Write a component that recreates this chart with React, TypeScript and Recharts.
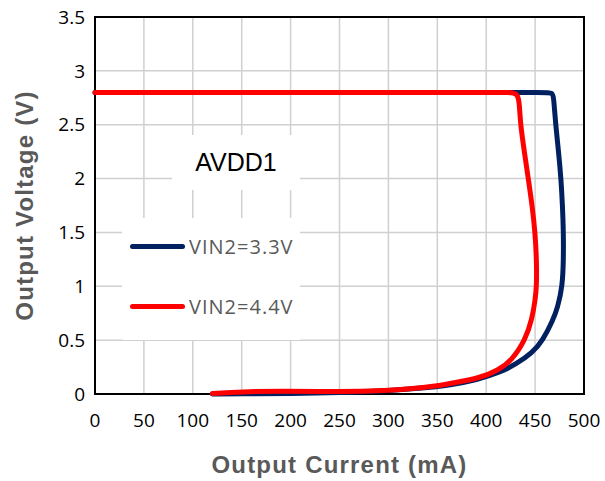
import { LineChart, Line, XAxis, YAxis, CartesianGrid, ReferenceArea, Label } from "recharts"

// VIN2 = 3.3V trace (current in mA, voltage in V)
const vin33Current = [0, 100, 200, 300, 400, 460, 468, 469, 471, 474, 476.5, 478, 479, 479, 478, 473, 468, 458, 447, 431, 414, 390, 365, 330, 300, 250, 200, 150, 120]
const vin33Voltage = [2.8, 2.8, 2.8, 2.8, 2.8, 2.8, 2.8, 2.75, 2.5, 2.25, 2.0, 1.75, 1.5, 1.25, 1.0, 0.8, 0.68, 0.5, 0.38, 0.28, 0.2, 0.13, 0.085, 0.05, 0.03, 0.012, 0.004, 0.002, 0]

// VIN2 = 4.4V trace
const vin44Current = [0, 100, 200, 300, 400, 425, 432, 434, 435, 439, 443, 447, 450, 451.5, 451.6, 450, 447, 440, 426, 412, 394, 365, 350, 320, 300, 250, 190, 150, 120]
const vin44Voltage = [2.8, 2.8, 2.8, 2.8, 2.8, 2.8, 2.79, 2.7, 2.5, 2.25, 2.0, 1.75, 1.5, 1.25, 1.0, 0.87, 0.7, 0.5, 0.31, 0.22, 0.15, 0.1, 0.075, 0.045, 0.032, 0.02, 0.03, 0.02, 0.005]

const xTicks = [0, 50, 100, 150, 200, 250, 300, 350, 400, 450, 500]
const yTicks = [0, 0.5, 1, 1.5, 2, 2.5, 3, 3.5]

const seriesNames = ["VIN2=3.3V", "VIN2=4.4V"]
const seriesColors = ["#002060", "#FF0000"]
const chartTitle = "AVDD1"

const vin33 = vin33Current.map((i, k) => ({ i, v: vin33Voltage[k] }))
const vin44 = vin44Current.map((i, k) => ({ i, v: vin44Voltage[k] }))

const tickStyle = { fill: "#000", fontSize: 19, fontFamily: "Open Sans" }
const titleStyle = { fill: "#595959", fontSize: 24, fontWeight: 700, fontFamily: "Liberation Sans", letterSpacing: 1.2 }

function LegendBox() {
  return (
    <div style={{ position: "absolute", left: 122, top: 218, width: 178, height: 122, background: "#fff" }}>
      {seriesNames.map((name, k) => (
        <div
          key={name}
          style={{ position: "absolute", left: 8, top: 15 + k * 60, display: "flex", alignItems: "center" }}
        >
          <div style={{ width: 55, height: 5, borderRadius: 3, background: seriesColors[k] }} />
          <span style={{ marginLeft: 4, fontFamily: "Open Sans", fontSize: 20, letterSpacing: 1, color: "#595959" }}>
            {name}
          </span>
        </div>
      ))}
    </div>
  )
}

export default function App() {
  return (
    <div style={{ position: "absolute", left: 0, top: 0, width: 605, height: 481, background: "#fff" }}>
      <LineChart width={605} height={481} margin={{ top: 17, right: 21, left: 0, bottom: 0 }}>
        <CartesianGrid stroke="#d0d0d0" strokeWidth={1.5} />
        <XAxis
          type="number"
          dataKey="i"
          domain={[0, 500]}
          ticks={xTicks}
          interval={0}
          height={87}
          tickLine={false}
          axisLine={false}
          tickMargin={14}
          tick={tickStyle}
        >
          <Label value="Output Current (mA)" position="insideBottom" offset={8} style={titleStyle} />
        </XAxis>
        <YAxis
          type="number"
          dataKey="v"
          domain={[0, 3.5]}
          ticks={yTicks}
          interval={0}
          width={95}
          tickLine={false}
          axisLine={false}
          tickMargin={4}
          tick={tickStyle}
        >
          <Label value="Output Voltage (V)" angle={-90} position="insideLeft" offset={24} style={{ ...titleStyle, textAnchor: "middle" }} />
        </YAxis>
        <ReferenceArea x1={0} x2={500} y1={0} y2={3.5} fill="none" stroke="#000" strokeWidth={2} />
        <Line
          data={vin33}
          dataKey="v"
          name={seriesNames[0]}
          type="basis"
          stroke={seriesColors[0]}
          strokeWidth={5}
          strokeLinecap="round"
          strokeLinejoin="round"
          dot={false}
          isAnimationActive={false}
        />
        <Line
          data={vin44}
          dataKey="v"
          name={seriesNames[1]}
          type="basis"
          stroke={seriesColors[1]}
          strokeWidth={5}
          strokeLinecap="round"
          strokeLinejoin="round"
          dot={false}
          isAnimationActive={false}
        />
      </LineChart>
      <LegendBox />
      <div
        style={{
          position: "absolute",
          left: 172,
          top: 135,
          width: 128,
          height: 55,
          background: "#fff",
          display: "flex",
          alignItems: "center",
          justifyContent: "center",
          fontFamily: "Liberation Sans",
          fontSize: 25,
          color: "#000",
        }}
      >
        {chartTitle}
      </div>
    </div>
  )
}
